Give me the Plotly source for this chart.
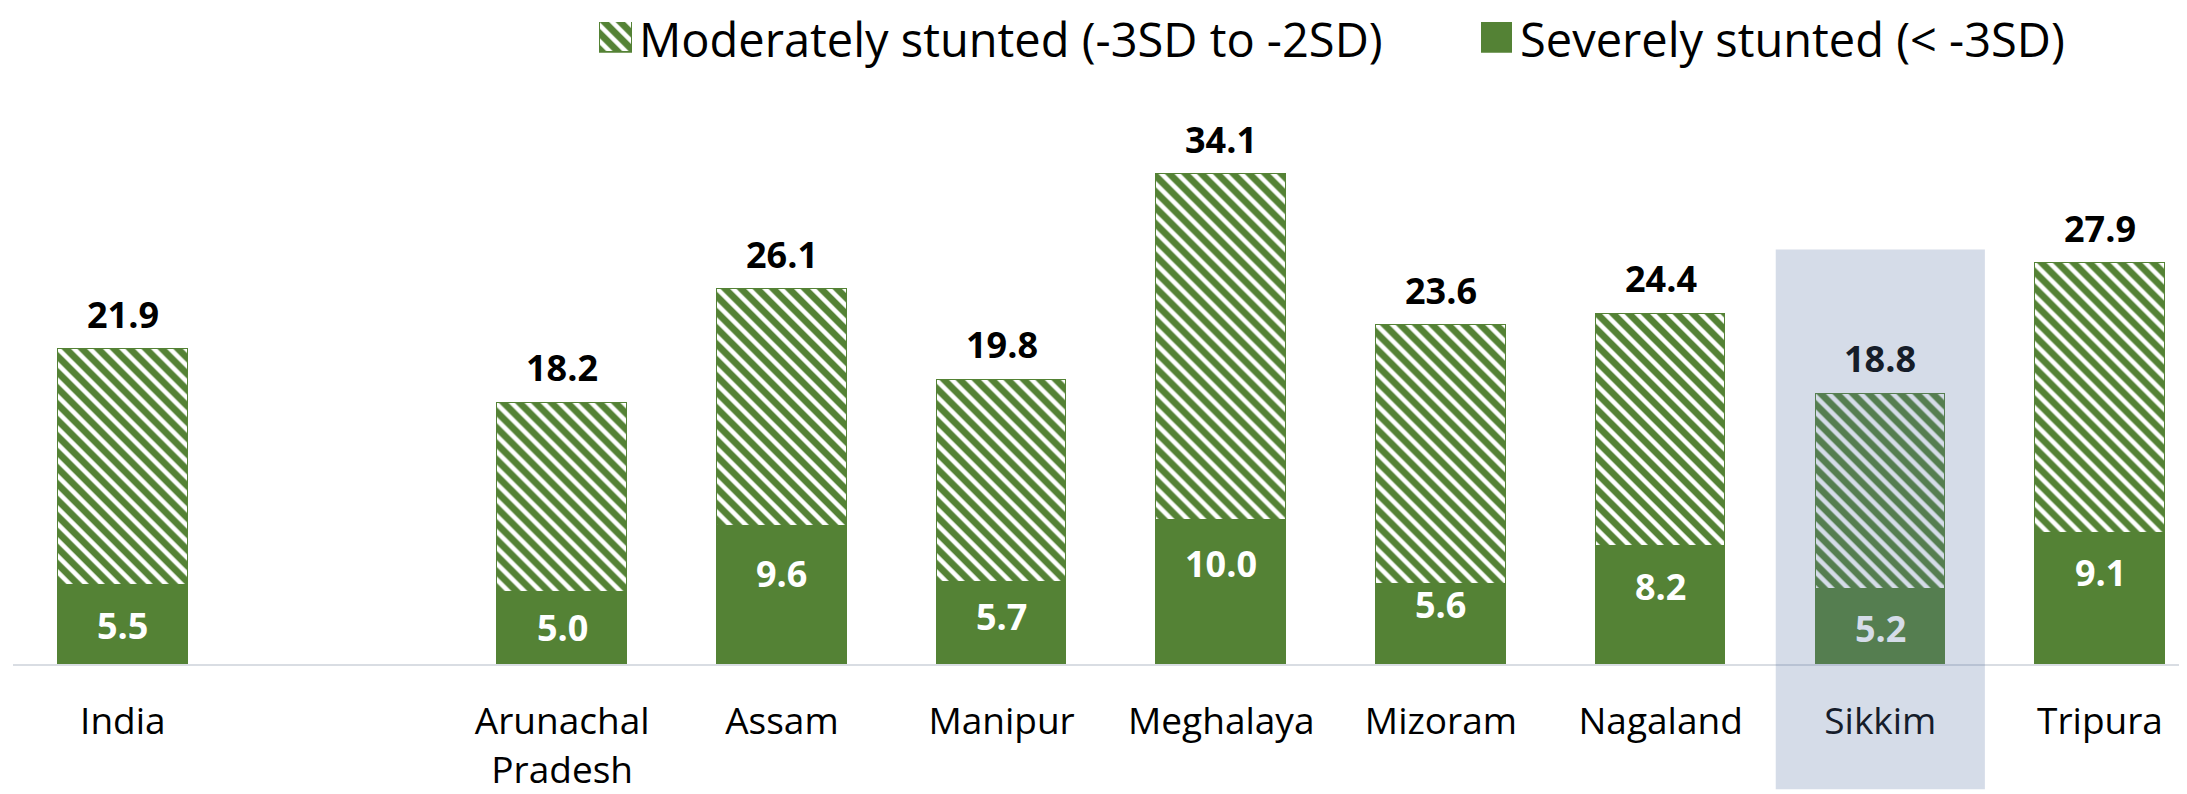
import plotly.graph_objects as go

# ---- data ----
categories = ["India", "Arunachal<br>Pradesh", "Assam", "Manipur", "Meghalaya",
              "Mizoram", "Nagaland", "Sikkim", "Tripura"]
stunted_total = [21.9, 18.2, 26.1, 19.8, 34.1, 23.6, 24.4, 18.8, 27.9]
severely = [5.5, 5.0, 9.6, 5.7, 10.0, 5.6, 8.2, 5.2, 9.1]
moderately = [round(t - s, 1) for t, s in zip(stunted_total, severely)]
highlight = "Sikkim"
legend_labels = ["Moderately stunted (-3SD to -2SD)", "Severely stunted (< -3SD)"]

# label placement (pixels below top of the solid segment), as in the original
severe_label_drop = [40, 35, 47, 34, 43, 21, 40, 39, 39]

# India first, then an empty slot, then the states
positions = [0] + [i + 2 for i in range(len(categories) - 1)]

GREEN = "#548235"
FONT = "Open Sans"
OFF = 8  # page body margin
W, H = 2187 - OFF, 794 - OFF
PLOT_BOTTOM = 668 - OFF
ML, MR, MT = 13 - OFF, 0, 0
MB = H - PLOT_BOTTOM
PX_PER_UNIT = 14.45
plot_h = H - MT - MB
plot_w = W - ML - MR

HL_RGB = (87, 115, 163)
HL_A = 0.25


def blend(rgb):
    return "rgb(%d,%d,%d)" % tuple(round(c * (1 - HL_A) + h * HL_A) for c, h in zip(rgb, HL_RGB))


hatch = dict(shape="\\", fgcolor=GREEN, fgopacity=1, bgcolor="white", size=11.3, solidity=0.6)

fig = go.Figure()
fig.add_trace(go.Bar(x=positions, y=severely, width=0.59, name=legend_labels[1],
                     marker=dict(color=GREEN, line=dict(color=GREEN, width=1.5)),
                     showlegend=False, hoverinfo="skip"))
fig.add_trace(go.Bar(x=positions, y=moderately, base=severely, width=0.59, name=legend_labels[0],
                     marker=dict(color="white", pattern=hatch, line=dict(color=GREEN, width=1.5)),
                     showlegend=False, hoverinfo="skip"))


# screen pixel -> helper-axis coordinates
def px_to_x(px):
    return (px - OFF - ML) / plot_w


def py_to_dom(py):
    return (plot_h - (py - OFF - MT)) / plot_h


# legend swatches on a helper subplot
fig.add_trace(go.Bar(x=[px_to_x(616)], y=[1], width=[32 / plot_w], xaxis="x2", yaxis="y2",
                     marker=dict(color="white", pattern=hatch, line=dict(color=GREEN, width=1.5)),
                     showlegend=False, hoverinfo="skip"))
fig.add_trace(go.Bar(x=[px_to_x(1496.5)], y=[1], width=[31 / plot_w], xaxis="x2", yaxis="y2",
                     marker=dict(color=GREEN, line=dict(width=0)),
                     showlegend=False, hoverinfo="skip"))

annotations = []
for pos, cat, tot, sev, drop in zip(positions, categories, stunted_total, severely, severe_label_drop):
    hl = cat == highlight
    annotations.append(dict(x=pos, y=tot, xref="x", yref="y", text="%.1f" % tot, showarrow=False,
                            yanchor="middle", yshift=35,
                            font=dict(family=FONT, size=36, weight=700,
                                      color=blend((0, 0, 0)) if hl else "black")))
    annotations.append(dict(x=pos, y=sev, xref="x", yref="y", text="%.1f" % sev, showarrow=False,
                            yanchor="middle", yshift=-drop,
                            font=dict(family=FONT, size=36, weight=700,
                                      color=blend((255, 255, 255)) if hl else "white")))

for px, label in [(638, legend_labels[0]), (1519, legend_labels[1])]:
    annotations.append(dict(x=px_to_x(px), y=py_to_dom(39), xref="paper", yref="paper", text=label,
                            showarrow=False, xanchor="left", yanchor="middle", borderpad=0,
                            font=dict(family=FONT, size=47, color="black")))

hl_pos = positions[categories.index(highlight)]
shapes = [dict(type="rect", xref="x", yref="paper", x0=hl_pos - 0.476, x1=hl_pos + 0.476,
               y0=-MB / plot_h, y1=py_to_dom(251), layer="above", line=dict(width=0),
               fillcolor="rgba(%d,%d,%d,%s)" % (HL_RGB + (HL_A,)))]

fig.update_layout(
    width=W, height=H, margin=dict(l=ML, r=MR, t=MT, b=MB),
    paper_bgcolor="white", plot_bgcolor="white", barmode="stack", bargap=0,
    showlegend=False,
    xaxis=dict(range=[-0.5, 9.396], tickvals=positions, ticktext=categories,
               tickfont=dict(family=FONT, size=37, color="black"), ticks="",
               ticklabelstandoff=24,
               showline=True, linecolor="#D9DDE3", linewidth=2, showgrid=False, zeroline=False,
               fixedrange=True),
    yaxis=dict(range=[0, plot_h / PX_PER_UNIT], visible=False, showgrid=False, zeroline=False),
    xaxis2=dict(domain=[0, 1], range=[0, 1], anchor="y2", visible=False),
    yaxis2=dict(domain=[py_to_dom(53), py_to_dom(22)], range=[0, 1], anchor="x2", visible=False),
    annotations=annotations, shapes=shapes,
)

fig.write_html("out.html")
